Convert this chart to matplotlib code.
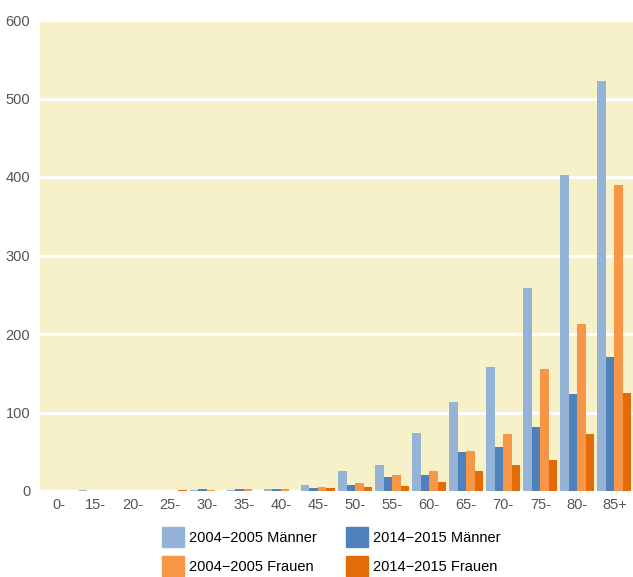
import matplotlib.pyplot as plt
import numpy as np
from matplotlib.patches import Patch

plt.rcParams.update({'font.family': 'Liberation Sans', 'font.size': 10})

# Altersgruppen und Werte
categories = ['0-', '15-', '20-', '25-', '30-', '35-', '40-', '45-',
              '50-', '55-', '60-', '65-', '70-', '75-', '80-', '85+']
m_2004 = [0.5, 1, 0.3, 0.3, 1, 1, 3, 7.5, 25, 33, 74, 113, 158, 258, 403, 522]
m_2014 = [0.3, 0.3, 0.3, 0.2, 2, 2, 2, 4, 8, 18, 21, 50, 56, 81, 123, 171]
f_2004 = [0.5, 0.3, 0.3, 0.3, 1, 2, 2, 5, 10, 20, 25, 51, 72, 155, 213, 390]
f_2014 = [0.3, 0.2, 0.3, 1.5, 0.5, 0.5, 0.5, 4, 5, 6, 12, 25, 33, 40, 73, 125]

series = [m_2004, m_2014, f_2004, f_2014]
labels = ['2004\u22122005 Männer', '2014\u22122015 Männer',
          '2004\u22122005 Frauen', '2014\u22122015 Frauen']
colors = ['#95b3d7', '#4f81bd', '#f79646', '#e36c09']

fig = plt.figure(figsize=(6.33, 5.77), dpi=100)
ax = fig.add_axes([40 / 633, 1 - 491 / 577, 593 / 633, 471 / 577])
ax.set_facecolor('#f7f1c9')

x = np.arange(len(categories))
w = 0.229
for k, (vals, col) in enumerate(zip(series, colors)):
    ax.bar(x + (k - 1.5) * w, vals, width=w, color=col, zorder=3)

ax.set_xlim(-0.5, len(categories) - 0.5)
ax.set_ylim(0, 600)
ax.set_yticks(range(0, 601, 100))
ax.set_xticks(x)
ax.set_xticklabels(categories)
ax.tick_params(length=0, labelsize=10.5, colors='#555555', pad=5)
ax.tick_params(axis='y', pad=7)
ax.yaxis.grid(True, color='white', lw=2.2, zorder=1)
for s in ax.spines.values():
    s.set_visible(False)

handles = [Patch(color=c, label=l) for c, l in zip(colors, labels)]
order = [0, 2, 1, 3]
fig.legend([handles[i] for i in order], [labels[i] for i in order],
           ncol=2, loc='upper left', bbox_to_anchor=(162 / 633, 1 - 527 / 577),
           frameon=False, fontsize=10.5, handlelength=1.5, handleheight=1.75,
           columnspacing=2.0, labelspacing=0.6, handletextpad=0.35,
           borderpad=0, borderaxespad=0)

fig.savefig('out.png', dpi=100)
